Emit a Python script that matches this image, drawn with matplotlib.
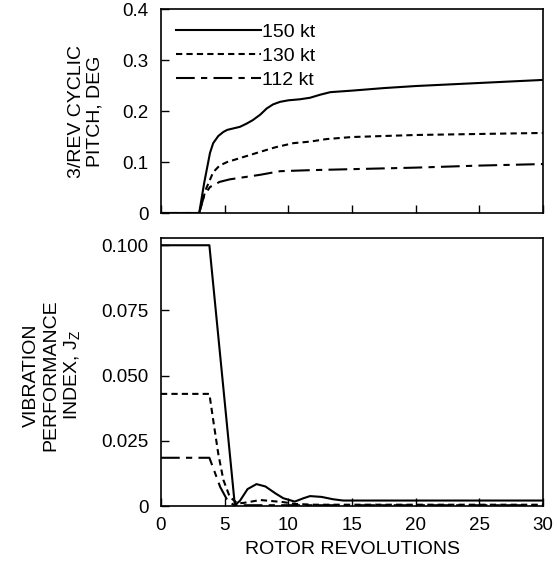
import numpy as np
import matplotlib
matplotlib.use('Agg')
import matplotlib.pyplot as plt

plt.rcParams['font.family'] = ['Liberation Sans', 'DejaVu Sans']

labels = ['150 kt', '130 kt', '112 kt']

# top panel: 3/rev cyclic pitch (deg) vs rotor revolutions
pitch_150_x = [0, 3.0, 3.4, 3.85, 4.1, 4.5, 4.9, 5.2, 5.7, 6.2, 6.7, 7.2, 7.8, 8.3, 8.8, 9.35, 10.0, 10.9, 11.7, 12.5, 13.3, 15, 17.5, 20, 25, 30]
pitch_150_y = [0, 0, 0.06, 0.118, 0.137, 0.151, 0.159, 0.163, 0.166, 0.169, 0.175, 0.182, 0.193, 0.205, 0.213, 0.218, 0.221, 0.223, 0.226, 0.232, 0.237, 0.240, 0.245, 0.249, 0.255, 0.261]
pitch_130_x = [0, 3.0, 3.5, 4.1, 4.6, 5.2, 6.5, 7.8, 9.0, 10.4, 11.7, 13, 15, 17.5, 20, 25, 30]
pitch_130_y = [0, 0, 0.045, 0.08, 0.093, 0.1, 0.11, 0.12, 0.129, 0.137, 0.14, 0.145, 0.149, 0.151, 0.153, 0.155, 0.157]
pitch_112_x = [0, 3.0, 3.4, 3.85, 4.6, 5.4, 6.2, 7.8, 9.35, 11.7, 15, 20, 25, 30]
pitch_112_y = [0, 0, 0.035, 0.051, 0.061, 0.066, 0.069, 0.075, 0.082, 0.084, 0.086, 0.089, 0.093, 0.096]

# bottom panel: vibration performance index Jz
jz_150_x = [0, 3.8, 5.8, 6.2, 6.8, 7.5, 8.2, 9.0, 9.6, 10.5, 11.2, 11.7, 12.6, 13.5, 14.3, 30]
jz_150_y = [0.1, 0.1, 0.0003, 0.002, 0.0065, 0.0084, 0.0075, 0.0048, 0.003, 0.0017, 0.003, 0.0038, 0.0035, 0.0026, 0.0021, 0.0021]
jz_130_x = [0, 3.8, 4.1, 4.5, 4.9, 5.4, 6.0, 6.5, 7.8, 9.6, 10.5, 12, 30]
jz_130_y = [0.043, 0.043, 0.033, 0.02, 0.01, 0.0035, 0.001, 0.0012, 0.0023, 0.0015, 0.0008, 0.0005, 0.0005]
jz_112_x = [0, 3.8, 4.25, 4.65, 5.2, 5.7, 6.5, 30]
jz_112_y = [0.0185, 0.0185, 0.0126, 0.0073, 0.0023, 0.0004, 0.0003, 0.0003]

styles = [dict(ls='-'), dict(ls=(0, (3, 2))), dict(ls=(0, (9, 3, 3, 3)))]

fig = plt.figure(figsize=(5.57, 5.65), dpi=100)
ax1 = fig.add_axes([0.289, 0.623, 0.686, 0.361])
ax2 = fig.add_axes([0.289, 0.1044, 0.686, 0.474])

top = [(pitch_150_x, pitch_150_y), (pitch_130_x, pitch_130_y), (pitch_112_x, pitch_112_y)]
bot = [(jz_150_x, jz_150_y), (jz_130_x, jz_130_y), (jz_112_x, jz_112_y)]
for (x, y), st, lab in zip(top, styles, labels):
    ax1.plot(x, y, color='black', lw=1.5, label=lab, **st)
for (x, y), st in zip(bot, styles):
    ax2.plot(x, y, color='black', lw=1.5, **st)

ax1.set_xlim(0, 30)
ax1.set_ylim(0, 0.4)
ax1.set_yticks([0, 0.1, 0.2, 0.3, 0.4])
ax1.set_yticklabels(['0', '0.1', '0.2', '0.3', '0.4'])
ax1.set_xticks([0, 5, 10, 15, 20, 25, 30])
ax1.set_xticklabels([])
ax1.set_ylabel('3/REV CYCLIC\nPITCH, DEG', fontsize=14, linespacing=1.1)
ax1.yaxis.set_label_coords(-0.15, 0.5)

ax2.set_xlim(0, 30)
ax2.set_ylim(0, 0.1027)
ax2.set_yticks([0, 0.025, 0.05, 0.075, 0.1])
ax2.set_yticklabels(['0', '0.025', '0.050', '0.075', '0.100'])
ax2.set_xticks([0, 5, 10, 15, 20, 25, 30])
ax2.set_ylabel('VIBRATION\nPERFORMANCE\nINDEX, J$_\\mathregular{Z}$', fontsize=14, linespacing=1.2)
ax2.yaxis.set_label_coords(-0.205, 0.49)
ax2.set_xlabel('ROTOR REVOLUTIONS', fontsize=14, labelpad=5)

for ax in (ax1, ax2):
    ax.tick_params(direction='in', length=6, width=1, labelsize=13.5, pad=9)
    ax.tick_params(axis='x', pad=8)
    for s in ax.spines.values():
        s.set_linewidth(1.2)

ax1.legend(loc='upper left', frameon=False, fontsize=14, handlelength=4.4,
           handletextpad=0.05, labelspacing=0.32, borderaxespad=0.45,
           borderpad=0.3)

fig.savefig('out.png', dpi=100)
